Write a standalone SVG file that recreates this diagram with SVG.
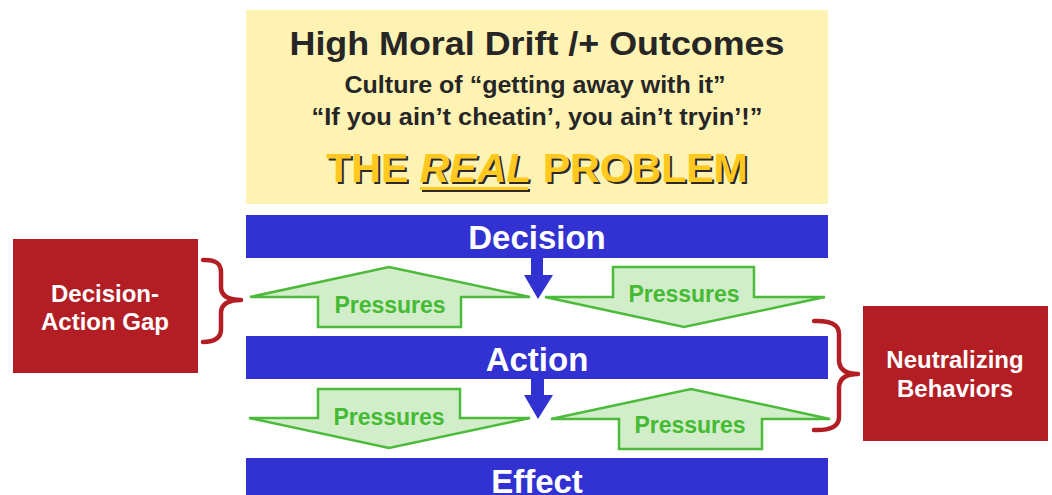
<svg xmlns="http://www.w3.org/2000/svg" width="1052" height="495" viewBox="0 0 1052 495">
<defs>
<style>
.bar{fill:#3232D2}
.bartxt{font-family:"Liberation Sans",Arial,sans-serif;font-weight:bold;font-size:33px;fill:#fff;text-anchor:middle}
.pres{fill:#D2EDC9;stroke:#4CBB3B;stroke-width:2.5;stroke-linejoin:miter}
.prestxt{font-family:"Liberation Sans",Arial,sans-serif;font-weight:bold;font-size:23px;fill:#44BB33;text-anchor:middle}
.red{fill:#B21E24}
.redtxt{font-family:"Liberation Sans",Arial,sans-serif;font-weight:bold;font-size:24px;fill:#fff;text-anchor:middle}
.brace{fill:none;stroke:#B21E24;stroke-width:4.5;stroke-linecap:round;stroke-linejoin:round}
.blue{fill:#3232D2}
.hd{font-family:"Liberation Sans",Arial,sans-serif;font-weight:bold;fill:#262626;text-anchor:middle}
.real{font-family:"Liberation Sans",Arial,sans-serif;font-weight:bold;font-size:41px;text-anchor:middle}
</style>
</defs>
<rect width="1052" height="495" fill="#fff"/>
<g id="header">
<rect x="246" y="10" width="582" height="194" fill="#FFF3B4"/>
<text class="hd" x="537" y="55" font-size="34" textLength="495" lengthAdjust="spacingAndGlyphs">High Moral Drift /+ Outcomes</text>
<text class="hd" x="535" y="93" font-size="23" textLength="381" lengthAdjust="spacingAndGlyphs">Culture of “getting away with it”</text>
<text class="hd" x="537" y="125" font-size="23" textLength="451" lengthAdjust="spacingAndGlyphs">“If you ain’t cheatin’, you ain’t tryin’!”</text>
<g transform="translate(2,2)" fill="#2A2A2A">
<text class="real" x="537" y="182">THE <tspan font-style="italic">REAL</tspan> PROBLEM</text>
<rect x="420" y="187" width="108" height="3"/>
</g>
<g fill="#FFC91F">
<text class="real" x="537" y="182">THE <tspan font-style="italic">REAL</tspan> PROBLEM</text>
<rect x="420" y="187" width="108" height="3"/>
</g>
</g>
<g id="decision">
<rect class="bar" x="246" y="215" width="582" height="43"/>
<text class="bartxt" x="537" y="249">Decision</text>
</g>
<g id="action">
<rect class="bar" x="246" y="336" width="582" height="43"/>
<text class="bartxt" x="537" y="371">Action</text>
</g>
<g id="effect">
<rect class="bar" x="246" y="458" width="582" height="40"/>
<text class="bartxt" x="537" y="493">Effect</text>
</g>
<g id="pressures1">
<polygon class="pres" points="250,297 389,267 530,297 461,297 461,327 318,327 318,297"/>
<text class="prestxt" x="390" y="313">Pressures</text>
</g>
<g id="pressures2">
<polygon class="pres" points="545,297 613,297 613,267 754,267 754,297 825,297 684,327"/>
<text class="prestxt" x="684" y="302">Pressures</text>
</g>
<g id="pressures3">
<polygon class="pres" points="249,418 318,418 318,389 460,389 460,418 530,418 389,448"/>
<text class="prestxt" x="389" y="425">Pressures</text>
</g>
<g id="pressures4">
<polygon class="pres" points="551,419 691,389 830,419 762,419 762,449 619,449 619,419"/>
<text class="prestxt" x="690" y="433">Pressures</text>
</g>
<g id="decision-action-gap">
<rect class="red" x="13" y="239" width="185" height="134"/>
<text class="redtxt" x="105" y="302">Decision-</text>
<text class="redtxt" x="105" y="330">Action Gap</text>
</g>
<g id="neutralizing-behaviors">
<rect class="red" x="863" y="306" width="185" height="135"/>
<text class="redtxt" x="955" y="368">Neutralizing</text>
<text class="redtxt" x="955" y="397">Behaviors</text>
</g>
<g id="connectors">
<polygon class="blue" points="531,258 543,258 543,275 553,275 538,299 524,275 531,275"/>
<polygon class="blue" points="531,379 544,379 544,395 553,395 538,419 524,395 531,395"/>
<path class="brace" d="M203,260 Q221,259 221,272 L221,288 Q222,300 241,300 Q222,300 221,312 L221,329 Q221,342 203,342"/>
<path class="brace" d="M814,321 Q839,320 839,334 L839,361 Q840,374 858,374 Q840,374 839,387 L839,417 Q839,431 814,430"/>
</g>
</svg>
